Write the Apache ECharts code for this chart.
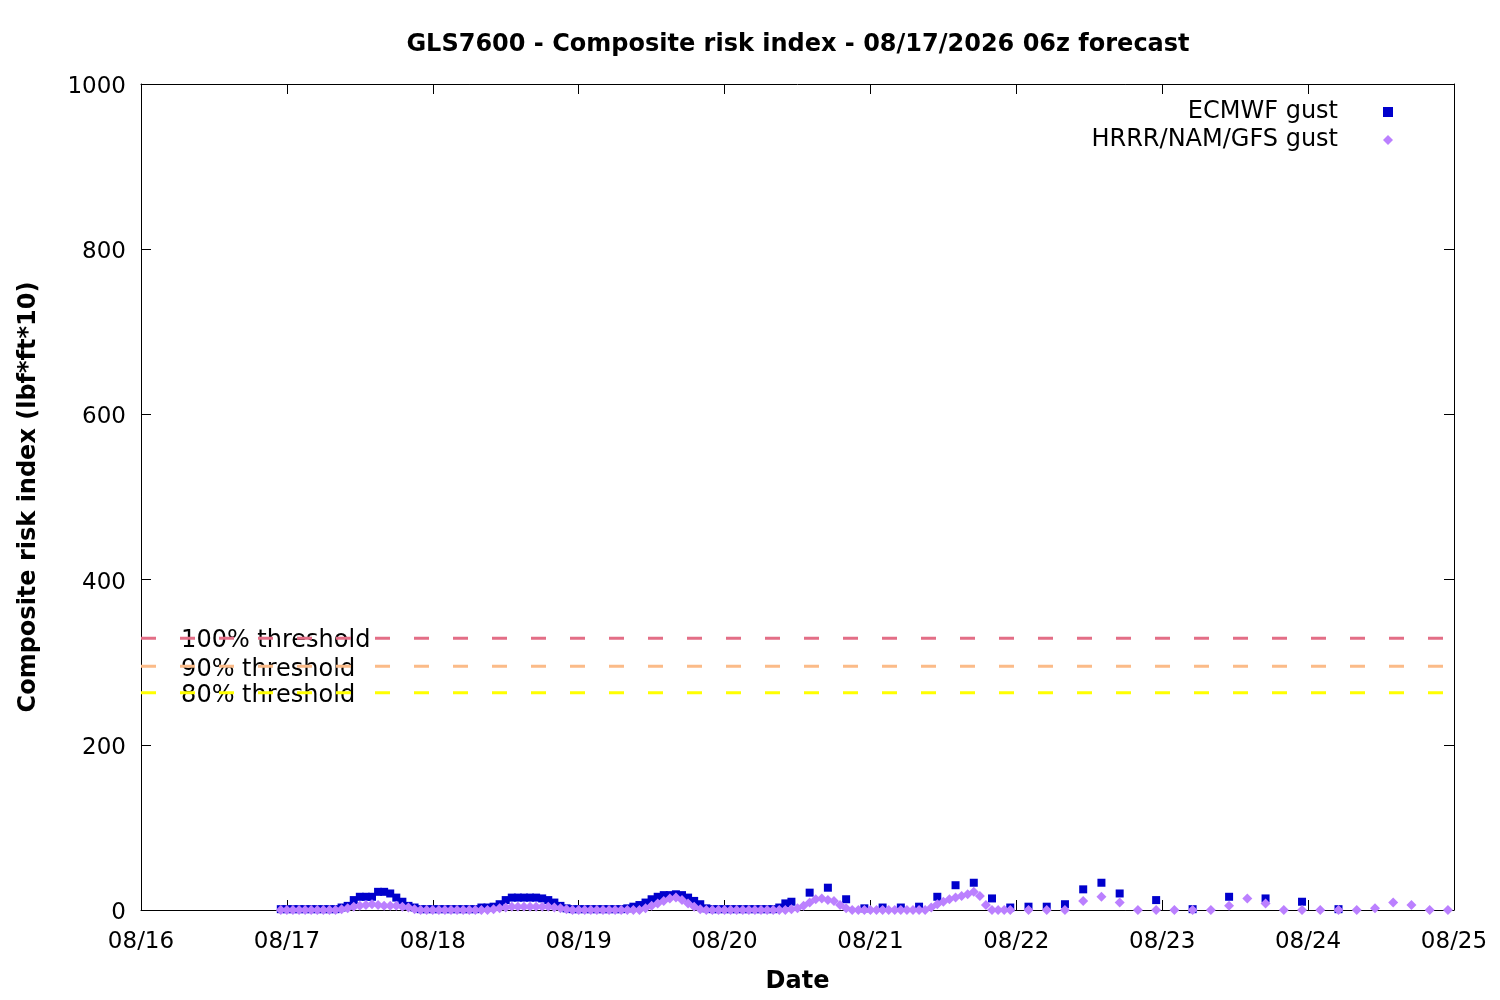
<!DOCTYPE html>
<html><head><meta charset="utf-8">
<script src="https://cdn.jsdelivr.net/npm/echarts@6/dist/echarts.min.js"></script>
<style>html,body{margin:0;padding:0;background:#fff}#c{width:1500px;height:1000px}</style>
</head><body><div id="c"></div>
<script>
// x values are hours after 08/16 00:00 (local)
const dayLabels = ['08/16','08/17','08/18','08/19','08/20','08/21','08/22','08/23','08/24','08/25'];
const titleText = 'GLS7600 - Composite risk index - 08/17/2026 06z forecast';

// ECMWF gust: hourly from hour 23 to hour 107
const ecmwfHourlyStart = 23;
const ecmwfHourly = [
  1,1,1,1,1,1,1,1,1,1,
  3,5,12,16,16,16,22,22,20,15,10,5,3,
  1,1,1,1,1,1,1,1,1,1,
  3,3,4,7,12,15,15,15,15,15,14,12,9,5,2,
  1,1,1,1,1,1,1,1,1,
  2,4,6,9,13,16,18,18,19,18,15,11,7,2,
  1,1,1,1,1,1,1,1,1,1,1,
  3,8,10
];
// ECMWF gust: 3-hourly then 6-hourly
const ecmwfLaterHours = [110,113,116,119,122,125,128,131,134,137,140,143,146,149,152,155,158,161,167,173,179,185,191,197];
const ecmwfLater      = [ 21, 27, 13,  2,  3,  3,  4, 16, 30, 33, 14,  3,  4,  4,  7, 25, 33, 20, 12,  1, 16, 14, 10,  1];

// HRRR/NAM/GFS gust: hourly from hour 23 to hour 143
const hrrrHourlyStart = 23;
const hrrrHourly = [
  0,0,0,0,0,0,0,0,0,0,
  1,2,4,5,6,7,6,5,5,5,4,3,1,
  0,0,0,0,0,0,0,0,0,0,0,0,
  1,2,3,4,4,4,4,4,4,4,3,2,1,
  0,0,0,0,0,0,0,0,0,0,0,0,
  2,5,8,11,14,15,12,8,4,1,
  0,0,0,0,0,0,0,0,0,0,0,0,0,0,
  1,2,5,9,13,14,12,11,6,2,
  0,0,0,0,0,0,0,0,0,0,0,0,0,
  3,7,10,13,15,17,19,22,17,6,
  0,0,0,0
];
const hrrrLaterHours = [146,149,152,155,158,161,164,167,170,173,176,179,182,185,188,191,194,197,200,203,206,209,212,215];
const hrrrLater      = [  0,  0,  0, 11, 16,  9,  0,  0,  0,  0,  0,  5, 14,  8,  0,  0,  0,  0,  0,  2,  9,  6,  0,  0];

const thresholdNames  = ['100% threshold','90% threshold','80% threshold'];
const thresholdValues = [329, 295, 263];
const thresholdColors = ['#e36e86','#fbbb88','#ffff00'];

const FONT = 'DejaVu Sans';

function pairs(start, vals){ return vals.map((v,i)=>[start+i, v]); }
function zipXY(xs, ys){ return xs.map((x,i)=>[x, ys[i]]); }

const ecmwfData = pairs(ecmwfHourlyStart, ecmwfHourly).concat(zipXY(ecmwfLaterHours, ecmwfLater));
const hrrrData = pairs(hrrrHourlyStart, hrrrHourly).concat(zipXY(hrrrLaterHours, hrrrLater));

const xMin = 0, xMax = 216;

const chart = echarts.init(document.getElementById('c'), null, {renderer:'canvas'});

const axisCommonX = {
  type:'value', min:xMin, max:xMax, interval:24,
  axisLine:{show:true, onZero:false, lineStyle:{color:'#000', width:1}},
  axisTick:{show:true, inside:true, length:10, lineStyle:{color:'#000', width:1}},
  splitLine:{show:false}
};
const axisCommonY = {
  type:'value', min:0, max:1000, interval:200,
  axisLine:{show:true, onZero:false, lineStyle:{color:'#000', width:1}},
  axisTick:{show:true, inside:true, length:10, lineStyle:{color:'#000', width:1}},
  splitLine:{show:false}
};

const series = [];
thresholdNames.forEach((n,i)=>{
  series.push({
    name:n+' label', type:'scatter', silent:true, z:2, symbolSize:0,
    itemStyle:{opacity:1},
    data:[{name:n, value:[6.6, thresholdValues[i]]}],
    label:{show:true, position:'right', distance:0, offset:[0,3], formatter:'{b}', color:'#000', fontSize:24, fontFamily:FONT}
  });
  series.push({
    name:n, type:'line', silent:true, z:3, symbol:'none',
    data:[[xMin, thresholdValues[i]],[xMax, thresholdValues[i]]],
    lineStyle:{color:thresholdColors[i], width:3, type:[15,24]}
  });
});
series.push({
  name:'ECMWF gust', type:'scatter', z:4, symbol:'rect', symbolSize:8,
  itemStyle:{color:'#0000cc', opacity:1}, data:ecmwfData
});
series.push({
  name:'HRRR/NAM/GFS gust', type:'scatter', z:5, symbol:'diamond', symbolSize:10,
  itemStyle:{color:'#bb80ff', opacity:1}, data:hrrrData
});

chart.setOption({
  animation:false,
  backgroundColor:'#fff',
  textStyle:{fontFamily:FONT, color:'#000'},
  title:{text:titleText, left:798, top:33, textAlign:'center', padding:0,
    textStyle:{fontFamily:FONT, fontSize:24, fontWeight:'bold', color:'#000'}},
  grid:{left:141, right:46, top:84, bottom:90, outerBoundsMode:'none'},
  legend:{
    orient:'vertical', right:102, top:95, align:'right', itemGap:4,
    itemWidth:10, itemHeight:10, selectedMode:false,
    textStyle:{fontFamily:FONT, fontSize:24, color:'#000', lineHeight:24, padding:[0,40,0,0]},
    data:[{name:'ECMWF gust', icon:'rect', itemStyle:{opacity:1}},{name:'HRRR/NAM/GFS gust', icon:'diamond', itemStyle:{opacity:1}}]
  },
  xAxis:[
    Object.assign({}, axisCommonX, {position:'bottom',
      axisLabel:{show:true, showMinLabel:true, showMaxLabel:true, margin:21, fontSize:23, color:'#000', fontFamily:FONT,
        formatter:v=>dayLabels[Math.round(v/24)]},
      name:'Date', nameLocation:'middle', nameGap:60,
      nameTextStyle:{fontFamily:FONT, fontSize:24, fontWeight:'bold', color:'#000'}}),
    Object.assign({}, axisCommonX, {position:'top', axisLabel:{show:false}})
  ],
  yAxis:[
    Object.assign({}, axisCommonY, {position:'left',
      axisLabel:{show:true, showMinLabel:true, showMaxLabel:true, margin:15, color:'#000',
        formatter:v=>'{t|' + v + '}',
        rich:{t:{fontSize:23, fontFamily:FONT, color:'#000', padding:[6,0,0,0]}}},
      name:'Composite risk index (lbf*ft*10)', nameLocation:'middle', nameGap:100,
      nameTextStyle:{fontFamily:FONT, fontSize:24, fontWeight:'bold', color:'#000'}}),
    Object.assign({}, axisCommonY, {position:'right', axisLabel:{show:false}})
  ],
  series:series
});
</script>
</body></html>
